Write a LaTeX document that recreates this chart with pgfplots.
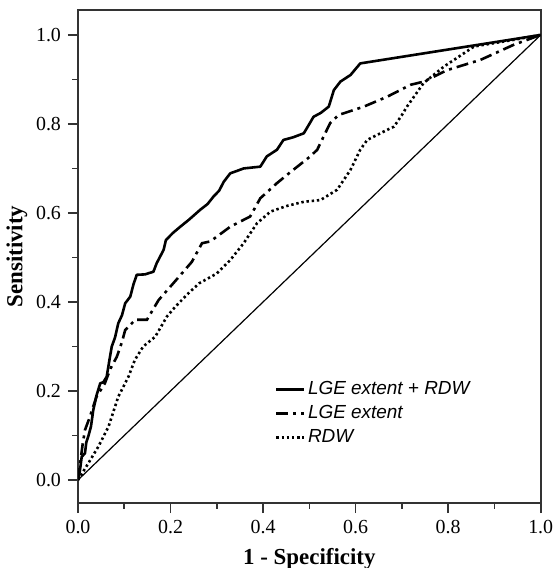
\documentclass[border=0pt]{standalone}
\usepackage{pgfplots}
\pgfplotsset{compat=1.18}
\usepackage{fontspec}
\setmainfont{Liberation Serif}
\setsansfont{Liberation Sans}
\begin{document}
\begin{tikzpicture}
\useasboundingbox (-39bp,-32.5bp) rectangle (237.5bp,251.5bp);
\begin{axis}[
  at={(0,0)}, anchor=south west,
  scale only axis,
  width=231.35bp, height=246.5bp,
  xmin=0, xmax=1, ymin=-0.0517, ymax=1.056,
  xtick={0,0.2,...,1.0}, ytick={0,0.2,...,1.0},
  minor xtick={0.1,0.3,0.5,0.7,0.9}, minor ytick={0.1,0.3,0.5,0.7,0.9},
  xtick pos=bottom, ytick pos=left,
  tick align=outside,
  major tick length=5bp, minor tick length=2.8bp,
  every tick/.style={line width=0.8bp, draw=black!80},
  axis line style={line width=0.9bp, draw=black!80},
  /pgf/number format/assume math mode=true,
  /pgf/number format/.cd, fixed, fixed zerofill, precision=1, /pgfplots/.cd,
  tick label style={font=\fontsize{10}{12}\selectfont},
  xlabel={\textbf{1 - Specificity}},
  ylabel={\textbf{Sensitivity}},
  label style={font=\fontsize{11.5}{13}\selectfont},
  xlabel style={yshift=-0.5bp},
  ylabel style={yshift=-2.5bp},
  legend style={draw=none, fill=none, at={(axis cs:0.425,0.150)}, anchor=west,
    font=\sffamily\itshape\fontsize{9.5}{11}\selectfont,
    row sep=1.5bp, inner sep=0pt,
    nodes={inner sep=1.2bp}},
  legend cell align=left,
  legend image code/.code={\draw[#1] (0bp,0bp) -- (14bp,0bp);},
]
\addplot[black, line width=1.3bp, line join=round] coordinates {
(0,0) (0.004,0.02) (0.008,0.052) (0.015,0.06) (0.018,0.085) (0.022,0.097) (0.028,0.12) (0.033,0.157)
(0.04,0.19) (0.048,0.217) (0.055,0.22) (0.062,0.232) (0.068,0.27) (0.073,0.30) (0.08,0.32)
(0.087,0.352) (0.095,0.37) (0.102,0.397) (0.113,0.412) (0.12,0.44) (0.127,0.461) (0.145,0.462)
(0.163,0.468) (0.17,0.487) (0.185,0.517) (0.19,0.539) (0.205,0.555) (0.221,0.569) (0.24,0.585)
(0.264,0.607) (0.28,0.62) (0.293,0.637) (0.305,0.65) (0.315,0.670) (0.329,0.689) (0.345,0.695)
(0.358,0.700) (0.394,0.704) (0.408,0.727) (0.430,0.742) (0.444,0.764) (0.465,0.770) (0.488,0.779)
(0.50,0.80) (0.509,0.816) (0.525,0.825) (0.542,0.839) (0.553,0.876) (0.567,0.895) (0.589,0.910)
(0.610,0.936) (1,1)};
\addlegendentry{LGE extent + RDW}
\addplot[black, line width=1.3bp, dash pattern=on 6bp off 2.5bp on 1.5bp off 2.5bp] coordinates {
(0,0) (0.005,0.04) (0.01,0.08) (0.015,0.112) (0.025,0.14) (0.04,0.187) (0.058,0.217) (0.07,0.25)
(0.084,0.277) (0.095,0.31) (0.102,0.337) (0.124,0.36) (0.149,0.36) (0.174,0.404) (0.206,0.442)
(0.246,0.49) (0.268,0.532) (0.286,0.536) (0.329,0.569) (0.372,0.592) (0.394,0.633) (0.430,0.667)
(0.457,0.69) (0.502,0.727) (0.517,0.742) (0.545,0.802) (0.563,0.820) (0.618,0.839) (0.668,0.861)
(0.719,0.888) (0.747,0.895) (0.798,0.921) (0.870,0.944) (0.942,0.978) (1,1)};
\addlegendentry{LGE extent}
\addplot[black, line width=1.3bp, dash pattern=on 1.2bp off 1.4bp] coordinates {
(0,0) (0.022,0.037) (0.044,0.075) (0.066,0.12) (0.087,0.187) (0.109,0.232) (0.123,0.27) (0.141,0.30)
(0.167,0.322) (0.192,0.367) (0.21,0.389) (0.239,0.42) (0.262,0.442) (0.300,0.464) (0.329,0.494)
(0.358,0.532) (0.387,0.577) (0.416,0.603) (0.452,0.616) (0.488,0.625) (0.524,0.629) (0.560,0.652)
(0.589,0.697) (0.610,0.742) (0.625,0.764) (0.661,0.783) (0.683,0.794) (0.70,0.82) (0.711,0.839)
(0.747,0.892) (0.791,0.929) (0.856,0.974) (0.942,0.989) (1,1)};
\addlegendentry{RDW}
\addplot[black, line width=0.6bp, forget plot] coordinates {(0,0) (1,1)};
\end{axis}
\end{tikzpicture}
\end{document}
